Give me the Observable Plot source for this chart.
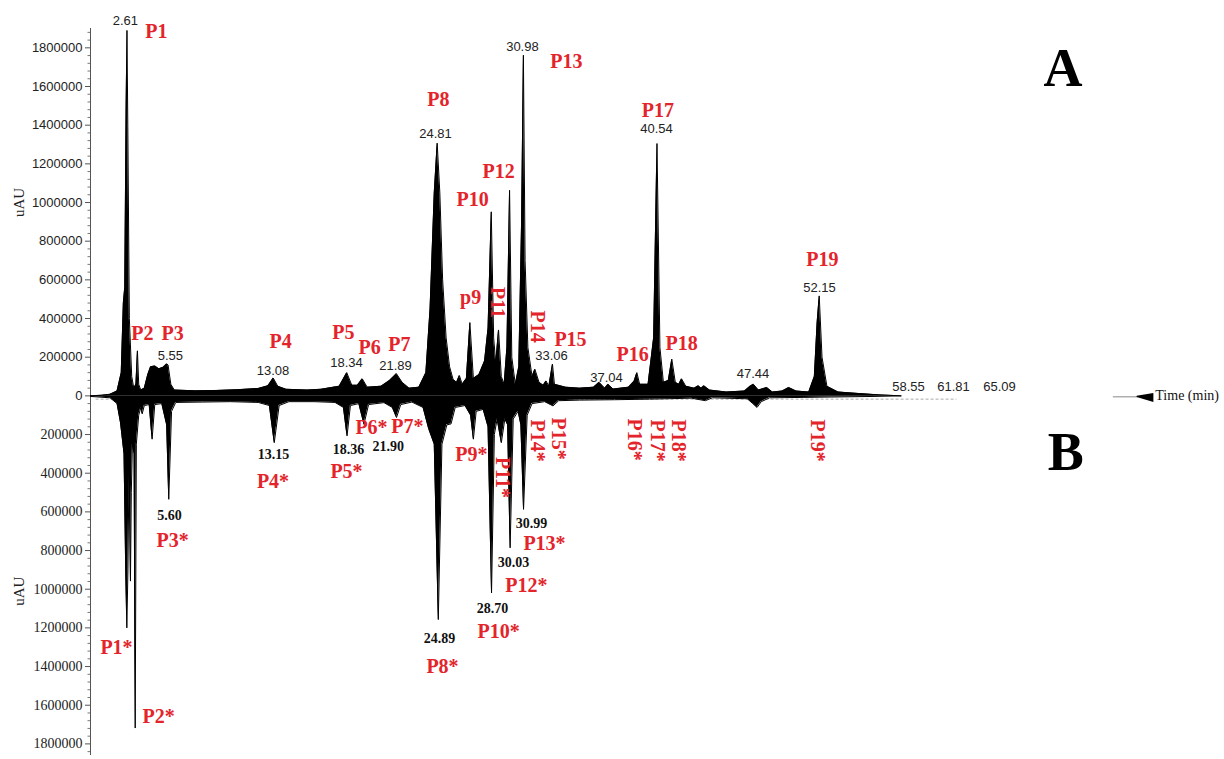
<!DOCTYPE html>
<html>
<head>
<meta charset="utf-8">
<script src="https://cdn.jsdelivr.net/npm/d3@7"></script>
<script src="https://cdn.jsdelivr.net/npm/@observablehq/plot@0.6"></script>
<style>
  html, body { margin: 0; padding: 0; background: #fff; }
  #chart svg { display: block; }
</style>
</head>
<body>
<div id="chart"></div>
<script>
// ---- Chromatogram A (upward trace): retention time (min) and signal (uAU)
const timeA = [0, 0.8, 1.4, 1.9, 2.2, 2.35, 2.45, 2.55, 2.61, 2.67, 2.78, 2.95, 3.1, 3.25, 3.36, 3.45, 3.6, 3.85,
  4.1, 4.3, 4.6, 4.9, 5.2, 5.45, 5.55, 5.75, 6.0, 7.5, 9.0, 10.5, 12.0, 12.7, 13.08, 13.4, 14.0, 15.5, 16.5,
  17.8, 18.34, 18.7, 19.1, 19.45, 19.8, 20.8, 21.4, 21.89, 22.3, 22.8, 23.5, 24.0, 24.3, 24.6, 24.81, 25.0,
  25.2, 25.45, 25.7, 25.95, 26.2, 26.4, 26.6, 26.9, 27.15, 27.4, 27.8, 28.2, 28.45, 28.68, 28.85, 29.0, 29.2, 29.4,
  29.6, 29.8, 29.99, 30.15, 30.4, 30.65, 30.85, 30.98, 31.1, 31.3, 31.6, 31.8, 32.1, 32.4, 32.6, 32.8, 33.06,
  33.2, 34.0, 35.0, 36.0, 36.4, 36.8, 37.04, 37.4, 38.5, 38.9, 39.1, 39.3, 39.9, 40.3, 40.54, 40.75, 41.0,
  41.35, 41.6, 41.85, 42.1, 42.3, 42.6, 43.2, 43.5, 43.7, 43.9, 44.3, 45.5, 46.8, 47.2, 47.44, 47.8, 48.4,
  48.8, 49.5, 49.97, 50.5, 51.4, 51.8, 52.0, 52.15, 52.35, 52.7, 53.5, 55.0, 56.5, 58.0];
const signalA = [0, 3000, 8000, 25000, 120000, 480000, 560000, 1500000, 1890000, 1400000, 400000, 100000, 40000, 60000, 233000, 60000, 30000, 40000,
  110000, 150000, 155000, 140000, 148000, 165000, 160000, 60000, 30000, 26000, 28000, 32000, 38000, 52000, 92000, 50000, 34000, 30000, 34000,
  50000, 120000, 55000, 55000, 88000, 45000, 50000, 80000, 115000, 70000, 40000, 45000, 120000, 450000, 1050000, 1307000, 1050000,
  600000, 300000, 150000, 85000, 70000, 105000, 60000, 90000, 379000, 90000, 110000, 180000, 350000, 952000, 300000, 170000, 341000, 100000,
  60000, 250000, 1063000, 200000, 60000, 150000, 900000, 1762000, 700000, 250000, 100000, 138000, 70000, 55000, 77000, 50000, 164000,
  60000, 45000, 40000, 45000, 70000, 40000, 60000, 35000, 45000, 75000, 120000, 60000, 60000, 300000, 1305000, 250000, 70000,
  80000, 190000, 70000, 60000, 88000, 50000, 40000, 52000, 40000, 52000, 30000, 20000, 25000, 50000, 60000, 30000, 43000,
  20000, 25000, 43000, 25000, 20000, 100000, 380000, 517000, 200000, 50000, 20000, 12000, 5000, 0];

// ---- Chromatogram B (mirrored, downward trace)
const timeB = [0, 1.4, 1.9, 2.15, 2.4, 2.52, 2.6, 2.68, 2.75, 2.82, 2.86, 2.92, 3.0, 3.12, 3.2, 3.28, 3.45, 3.6, 3.7,
  3.85, 4.2, 4.41, 4.6, 5.1, 5.45, 5.6, 5.8, 6.1, 8.0, 10.0, 12.0, 12.8, 13.15, 13.5, 14.2, 16.0, 17.5, 18.1,
  18.36, 18.6, 19.2, 19.57, 19.9, 21.0, 21.6, 21.9, 22.2, 23.0, 23.8, 24.2, 24.6, 24.89, 25.15, 25.5, 25.8,
  26.1, 26.8, 27.2, 27.4, 27.6, 28.1, 28.45, 28.7, 28.9, 29.1, 29.4, 29.65, 29.85, 30.03, 30.25, 30.6, 30.8,
  30.99, 31.25, 31.6, 32.5, 33.1, 33.5, 35.0, 37.5, 40.0, 43.0, 44.0, 44.5, 47.0, 47.4, 47.7, 48.0, 48.6,
  51.0, 53.0, 56.0, 58.0];
const signalB = [-3000, -10000, -40000, -140000, -300000, -900000, -1200000, -900000, -400000, -700000, -958000, -500000, -250000, -300000, -1718000, -250000, -100000, -60000, -93000,
  -50000, -45000, -224000, -45000, -40000, -150000, -535000, -80000, -34000, -32000, -30000, -34000, -50000, -242000, -50000, -30000, -30000, -34000, -60000,
  -207000, -50000, -40000, -147000, -45000, -35000, -60000, -112000, -45000, -32000, -60000, -170000, -250000, -1157000, -250000, -150000, -145000,
  -60000, -50000, -100000, -224000, -80000, -70000, -160000, -1019000, -200000, -120000, -242000, -120000, -150000, -786000, -120000, -80000, -150000,
  -587000, -100000, -40000, -30000, -52000, -25000, -22000, -20000, -17000, -12000, -25000, -10000, -15000, -40000, -60000, -30000, -10000,
  -8000, -6000, -3000, 0];

// ---- Peak tags and retention-time annotations
const tagsA = ["P1", "P2", "P3", "P4", "P5", "P6", "P7", "P8", "p9", "P10", "P11", "P12", "P13", "P14", "P15", "P16", "P17", "P18", "P19"];
const tagsB = ["P1*", "P2*", "P3*", "P4*", "P5*", "P6*", "P7*", "P8*", "P9*", "P10*", "P11*", "P12*", "P13*", "P14*", "P15*", "P16*", "P17*", "P18*", "P19*"];
const rtLabelsA = ["2.61", "5.55", "13.08", "18.34", "21.89", "24.81", "30.98", "33.06", "37.04", "40.54", "47.44", "52.15", "58.55", "61.81", "65.09"];
const rtLabelsB = ["5.60", "13.15", "18.36", "21.90", "24.89", "28.70", "30.03", "30.99"];
const yTicks = [0, 200000, 400000, 600000, 800000, 1000000, 1200000, 1400000, 1600000, 1800000];

// ---- Annotation layout, in chart units [time, uAU]; rotated tags read top to bottom
const tagPosA = [[4.72, 1884000], [3.72, 322000], [5.87, 322000], [13.6, 281000], [18.1, 327000], [19.97, 250000],
  [22.11, 265000], [24.9, 1532000], [27.2, 508000], [27.34, 1015000], [29.1, 483000], [29.2, 1160000],
  [34.06, 1729000], [31.99, 358000], [34.35, 291000], [38.79, 214000], [40.6, 1476000], [42.3, 271000], [52.38, 705000]];
const tagRotA = [0, 0, 0, 0, 0, 0, 0, 0, 0, 0, 90, 0, 0, 90, 0, 0, 0, 0, 0];
const tagPosB = [[1.86, -1301000], [4.87, -1658000], [5.87, -748000], [13.06, -443000], [18.32, -391000], [20.11, -165000],
  [22.68, -160000], [25.19, -1400000], [27.26, -303000], [29.2, -1219000], [29.48, -422000], [31.2, -981000],
  [32.49, -766000], [31.99, -231000], [33.49, -221000], [38.93, -226000], [40.58, -231000], [42.08, -231000], [52.03, -231000]];
const tagRotB = [0, 0, 0, 0, 0, 0, 0, 0, 0, 0, 90, 0, 0, 90, 90, 90, 90, 90, 90];
const rtPosA = [[2.5, 1941000], [5.72, 209000], [13.06, 131000], [18.32, 173000], [21.83, 157000], [24.69, 1357000],
  [30.91, 1807000], [32.99, 209000], [36.93, 95000], [40.5, 1383000], [47.41, 116000], [52.17, 560000],
  [58.54, 48000], [61.76, 48000], [65.05, 48000]];
const rtPosB = [[5.65, -619000], [13.1, -303000], [18.46, -277000], [21.3, -262000], [24.98, -1255000],
  [28.77, -1100000], [30.27, -862000], [31.56, -660000]];

const red = "#e3242b";
const serif = "'Liberation Serif', 'Times New Roman', serif";
const sans = "'Liberation Sans', Arial, sans-serif";

const dataA = timeA.map((t, i) => ({t, v: signalA[i]}));
const dataB = timeB.map((t, i) => ({t, v: signalB[i]}));
const tagRowsA = tagsA.map((s, i) => ({s, t: tagPosA[i][0], v: tagPosA[i][1], r: tagRotA[i]}));
const tagRowsB = tagsB.map((s, i) => ({s, t: tagPosB[i][0], v: tagPosB[i][1], r: tagRotB[i]}));
const rtRowsA = rtLabelsA.map((s, i) => ({s, t: rtPosA[i][0], v: rtPosA[i][1]}));
const rtRowsB = rtLabelsB.map((s, i) => ({s, t: rtPosB[i][0], v: rtPosB[i][1]}));
const minorTicks = d3.range(-1840000, 1880001, 40000).filter(d => d % 200000 !== 0);

const tTag = (rows, rotate) => Plot.text(rows.filter(d => d.r === rotate), {
  x: "t", y: "v", text: "s", rotate, fill: red, fontFamily: serif, fontWeight: "bold", fontSize: 20
});

const chart = Plot.plot({
  width: 1224,
  height: 759,
  marginLeft: 90,
  marginRight: 72,
  marginTop: 28,
  marginBottom: 4,
  x: {domain: [0, 76], axis: null},
  y: {domain: [-1860000, 1900000], axis: null},
  style: {fontFamily: sans, background: "#fff", overflow: "visible"},
  marks: [
    // vertical axis line and ticks
    Plot.ruleX([0], {y1: -1860000, y2: 1900000, stroke: "#555", strokeWidth: 1}),
    Plot.axisY(minorTicks, {tickSize: 2.5, tickFormat: () => "", stroke: "#777"}),
    Plot.axisY(yTicks, {tickSize: 5, tickPadding: 3, tickFormat: d => String(d), fontSize: 13, fontFamily: sans, fill: "#222", stroke: "#555"}),
    Plot.axisY(yTicks.slice(1).map(d => -d), {tickSize: 5, tickPadding: 3, tickFormat: d => String(Math.abs(d)), fontSize: 14, fontFamily: serif, fill: "#222", stroke: "#555"}),
    Plot.text(["uAU"], {x: -5.1, y: 1000000, rotate: -90, fontFamily: serif, fontSize: 15, fill: "#222"}),
    Plot.text(["uAU"], {x: -5.1, y: -1010000, rotate: -90, fontFamily: serif, fontSize: 15, fill: "#222"}),

    // noisy baseline of trace B
    Plot.ruleY([-17000], {x1: 0.4, x2: 62, stroke: "#aaa", strokeWidth: 1, strokeDasharray: "3,2"}),

    // traces
    Plot.areaY(dataA, {x: "t", y: "v", fill: "#000", curve: "linear"}),
    Plot.lineY(dataA, {x: "t", y: "v", stroke: "#000", strokeWidth: 1, curve: "linear"}),
    Plot.areaY(dataB, {x: "t", y: "v", fill: "#000", curve: "linear"}),
    Plot.lineY(dataB, {x: "t", y: "v", stroke: "#000", strokeWidth: 1, curve: "linear"}),

    // time axis arrow and title
    Plot.ruleY([-5000], {x1: 73.2, x2: 75, stroke: "#888", strokeWidth: 1}),
    Plot.area([{t: 74.9, a: -2000, b: -8000}, {t: 76.1, a: 12000, b: -34000}], {x1: "t", y1: "a", y2: "b", fill: "#000"}),
    Plot.text(["Time (min)"], {x: 76.2, y: 0, textAnchor: "start", fontFamily: serif, fontSize: 14, fill: "#111"}),

    // retention times
    Plot.text(rtRowsA, {x: "t", y: "v", text: "s", fontFamily: sans, fontSize: 13, fill: "#222"}),
    Plot.text(rtRowsB, {x: "t", y: "v", text: "s", fontFamily: serif, fontWeight: "bold", fontSize: 14, fill: "#111"}),

    // peak tags
    tTag(tagRowsA, 0), tTag(tagRowsA, 90),
    tTag(tagRowsB, 0), tTag(tagRowsB, 90),

    // panel letters
    Plot.text(["A"], {x: 69.6, y: 1693000, fontFamily: serif, fontWeight: "bold", fontSize: 54, fill: "#000"}),
    Plot.text(["B"], {x: 69.8, y: -293000, fontFamily: serif, fontWeight: "bold", fontSize: 54, fill: "#000"})
  ]
});

document.getElementById("chart").appendChild(chart);
</script>
</body>
</html>
